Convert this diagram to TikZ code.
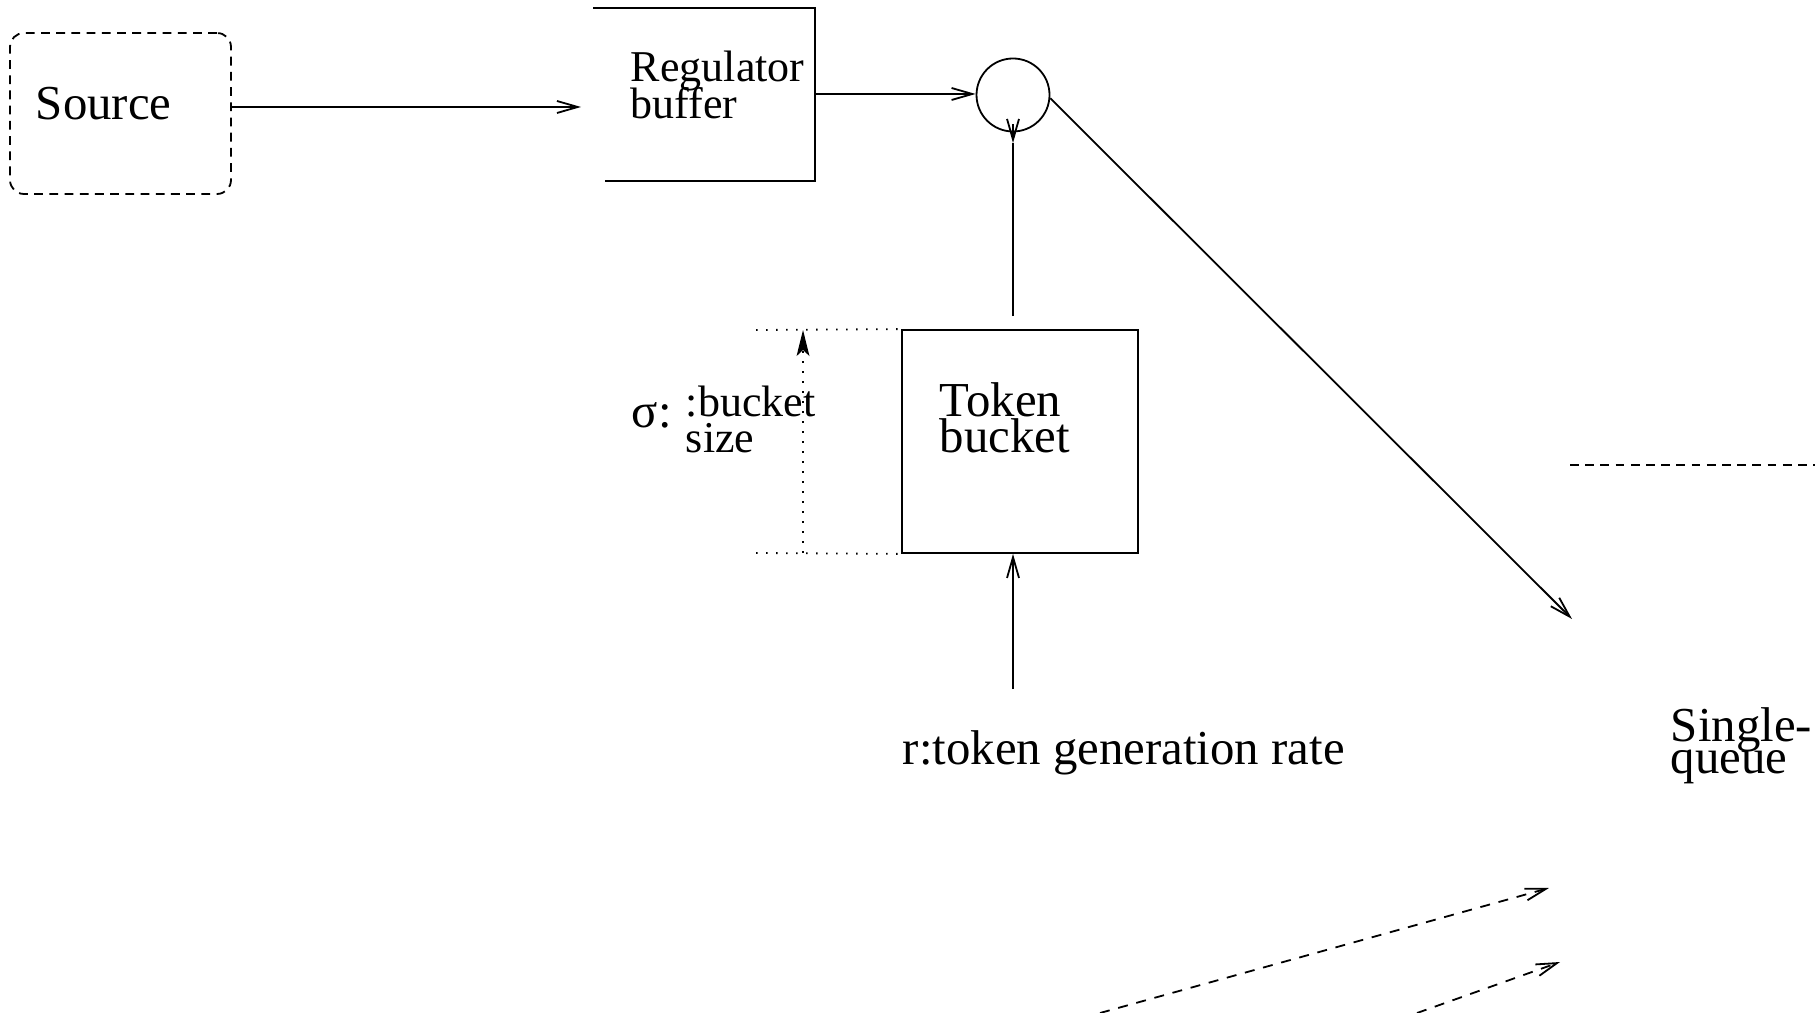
\documentclass[tikz,border=0pt]{standalone}
\usepackage{fontspec}
\setmainfont{Liberation Serif}
\usetikzlibrary{arrows.meta}
\begin{document}
\begin{tikzpicture}[x=0.25pt,y=-0.25pt,line width=0.45pt,
  barb/.style={-{Straight Barb[length=5.2pt,width=3pt]}},
  big/.style={font=\fontsize{12.2}{12.2}\selectfont,inner sep=0pt,anchor=base west},
  small/.style={font=\fontsize{11}{11}\selectfont,inner sep=0pt,anchor=base west},
  firstline/.style={text depth=0pt},
  nextline/.style={text height=0.7em},
  lowline/.style={text height=0.47em},
  dsh/.style={dash pattern=on 2.2pt off 1.6pt},
  dshlong/.style={dash pattern=on 2.5pt off 2.2pt},
  dotline/.style={dash pattern=on 0.4pt off 2.1pt}]
\useasboundingbox (0,0) rectangle (1815,1013);

% source
\node[draw,dsh,rounded corners=3.5pt,minimum width=55.25pt,minimum height=40.25pt,inner sep=0pt] (src) at (120.5,113.5) {};
\node[big] (srct) at (35,120) {Source};

% regulator buffer (open on the left)
\coordinate (regtl) at (593,8);
\coordinate (regtr) at (815,8);
\coordinate (regbr) at (815,181);
\coordinate (regbl) at (605,181);
\draw (regtl) -- (regtr) -- (regbr) -- (regbl);
\node[small,firstline] (rega) at (630,82) {Regulator};
\node[small,nextline] (regb) at (630,119) {buffer};
\coordinate (regin) at (581,107);
\coordinate (regout) at (815,94);
\draw[barb] ([yshift=1.6pt]src.east) -- (regin);

% merge point
\node[draw,circle,minimum size=18.25pt,inner sep=0pt] (circ) at (1013,95) {};
\draw[barb] (regout) -- (circ.west |- regout);

% token bucket
\node[draw,minimum width=59pt,minimum height=55.75pt,inner sep=0pt] (tb) at (1020,441.5) {};
\node[big,firstline] (tba) at (939,417) {Token};
\node[big,nextline] (tbb) at (939,453) {bucket};

\coordinate (vtip) at (1013,143);
\coordinate (vbarb) at (1013,124);
\draw ([yshift=3.25pt]tb.north -| vtip) -- (vtip);
\draw[barb] (vbarb) -- (vtip);

% token rate input
\coordinate (rate) at (1013,689);
\draw[barb] (rate) -- (rate |- tb.south);
\node[big] (ratet) at (902,764) {r:token generation rate};

% bucket size dimension
\coordinate (dimt) at (756,330);
\coordinate (dimb) at (756,553);
\draw[dotline] (dimt) -- (tb.north west);
\draw[dotline] (dimb) -- (tb.south west);
\coordinate (dimx) at (803,0);
\draw[dotline,-{Stealth[length=6.5pt,width=3.2pt,inset=1.5pt]}] (dimx |- dimb) -- (dimx |- dimt);
\node[big] (sig) at (631,428) {σ:};
\node[small,firstline] (siga) at (685,417) {:bucket};
\node[small,lowline] (sigb) at (685,453) {size};

% output towards the queue
\coordinate (dtip) at (1572,619);
\draw[barb] (circ.-5) -- (dtip);
\coordinate (hl) at (1570,465);
\coordinate (hr) at (1815,465);
\draw[dsh] (hl) -- (hr);
\node[big,firstline] (sqa) at (1670,741) {Single-};
\node[big,lowline] (sqb) at (1670,773) {queue};

% other flows
\coordinate (fa0) at (1100,1013);
\coordinate (fa1) at (1549,888);
\coordinate (fb0) at (1417,1013);
\coordinate (fb1) at (1560,962);
\draw[dshlong,barb] (fa0) -- (fa1);
\draw[dshlong,barb] (fb0) -- (fb1);
\end{tikzpicture}
\end{document}
